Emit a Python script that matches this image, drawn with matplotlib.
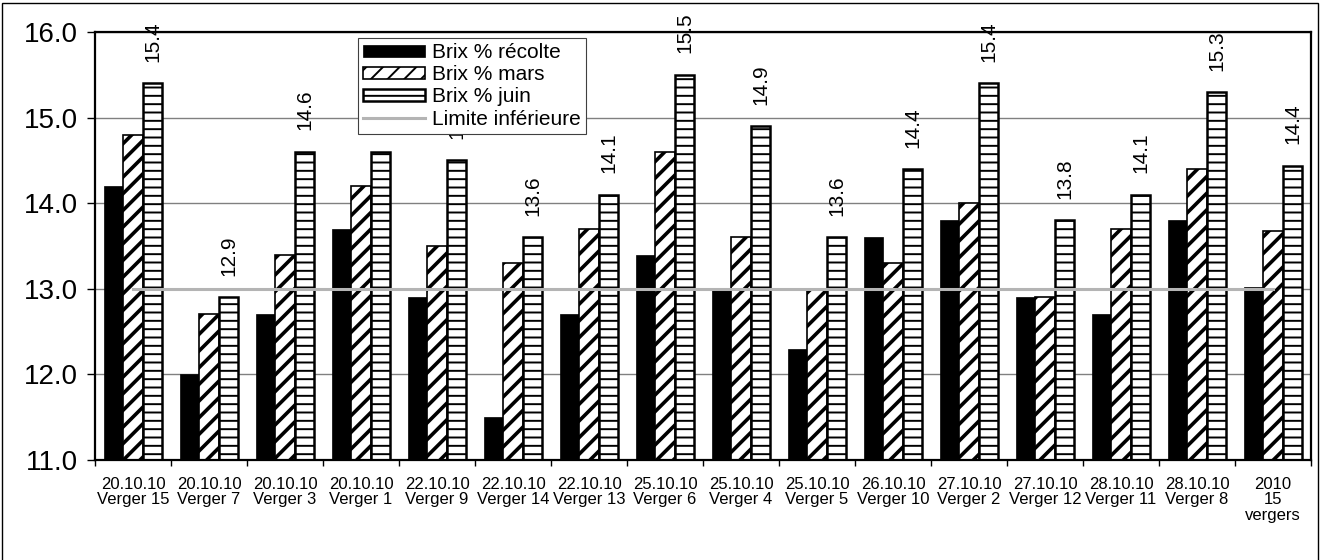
import numpy as np
import matplotlib
matplotlib.use('Agg')
import matplotlib.pyplot as plt
from matplotlib.patches import Rectangle

plt.rcParams['font.family'] = ['Liberation Sans', 'DejaVu Sans']

# Data
categories = ['20.10.10\nVerger 15', '20.10.10\nVerger 7', '20.10.10\nVerger 3',
              '20.10.10\nVerger 1', '22.10.10\nVerger 9', '22.10.10\nVerger 14',
              '22.10.10\nVerger 13', '25.10.10\nVerger 6', '25.10.10\nVerger 4',
              '25.10.10\nVerger 5', '26.10.10\nVerger 10', '27.10.10\nVerger 2',
              '27.10.10\nVerger 12', '28.10.10\nVerger 11', '28.10.10\nVerger 8',
              '2010\n15\nvergers']
brix_recolte = [14.2, 12.0, 12.7, 13.7, 12.9, 11.5, 12.7, 13.4, 13.0, 12.3,
                13.6, 13.8, 12.9, 12.7, 13.8, 13.02]
brix_mars = [14.8, 12.7, 13.4, 14.2, 13.5, 13.3, 13.7, 14.6, 13.6, 13.0,
             13.3, 14.0, 12.9, 13.7, 14.4, 13.67]
brix_juin = [15.4, 12.9, 14.6, 14.6, 14.5, 13.6, 14.1, 15.5, 14.9, 13.6,
             14.4, 15.4, 13.8, 14.1, 15.3, 14.44]
limite = 13.0

x = np.arange(len(categories))
w = 0.255

fig = plt.figure(figsize=(13.21, 5.6), dpi=100)
ax = fig.add_axes([95 / 1321, 100 / 560, 1216 / 1321, 428 / 560])

# bars
b1 = ax.bar(x - w, brix_recolte, w, color='black', edgecolor='black',
            linewidth=0.5, label='Brix % récolte', zorder=2)
plt.rcParams['hatch.linewidth'] = 2.6
b2 = ax.bar(x, brix_mars, w, color='white', edgecolor='black', hatch='//',
            linewidth=1.2, label='Brix % mars', zorder=2)
plt.rcParams['hatch.linewidth'] = 1.4
b3 = ax.bar(x + w, brix_juin, w, color='white', edgecolor='black', hatch='--',
            linewidth=1.8, label='Brix % juin', zorder=2)
for p in b2:
    if hasattr(p, 'set_hatch_linewidth'):
        p.set_hatch_linewidth(2.6)
for p in b3:
    if hasattr(p, 'set_hatch_linewidth'):
        p.set_hatch_linewidth(1.4)

# lower limit
ln, = ax.plot(x, [limite] * len(x), color='#b4b4b4', linewidth=2.2,
              label='Limite inférieure', zorder=3)

# value labels above juin bars
for xi, v in zip(x, brix_juin):
    ax.text(xi + w, v + 0.25, f'{v:.1f}', rotation=90, ha='center', va='bottom',
            fontsize=15, zorder=3)

ax.set_ylim(11, 16)
ax.set_xlim(-0.5, len(x) - 0.5)
yt = np.arange(11, 16.1, 1)
ax.set_yticks(yt)
ax.set_yticklabels([f'{t:.1f}' for t in yt], fontsize=20)
ax.yaxis.grid(True, color='#808080', linewidth=1.0, zorder=0)
ax.set_axisbelow(True)

ax.set_xticks(x)
ax.set_xticklabels(categories, fontsize=12, linespacing=1.05)
ax.set_xticks(np.arange(-0.5, len(x), 1), minor=True)
ax.tick_params(axis='x', which='major', length=0, pad=12)
ax.tick_params(axis='x', which='minor', length=4, width=1)
ax.tick_params(axis='y', length=6, width=1, pad=6)

for s in ax.spines.values():
    s.set_linewidth(1.6)
    s.set_color('black')

leg = ax.legend([b1, b2, b3, ln],
                ['Brix % récolte', 'Brix % mars', 'Brix % juin', 'Limite inférieure'],
                loc='upper left', bbox_to_anchor=(0.216, 0.986), fontsize=15,
                frameon=True, fancybox=False, edgecolor='#404040', framealpha=1,
                borderaxespad=0, borderpad=0.25, labelspacing=0.15,
                handlelength=3.0, handleheight=0.5, handletextpad=0.3)
leg.get_frame().set_linewidth(0.8)
leg.set_zorder(5)

# outer frame
fig.patches.append(Rectangle((2 / 1321, -0.1), 1316 / 1321, 1.1 - 3 / 560,
                             transform=fig.transFigure, fill=False,
                             edgecolor='black', linewidth=1.0))

fig.savefig('out.png', dpi=100)
